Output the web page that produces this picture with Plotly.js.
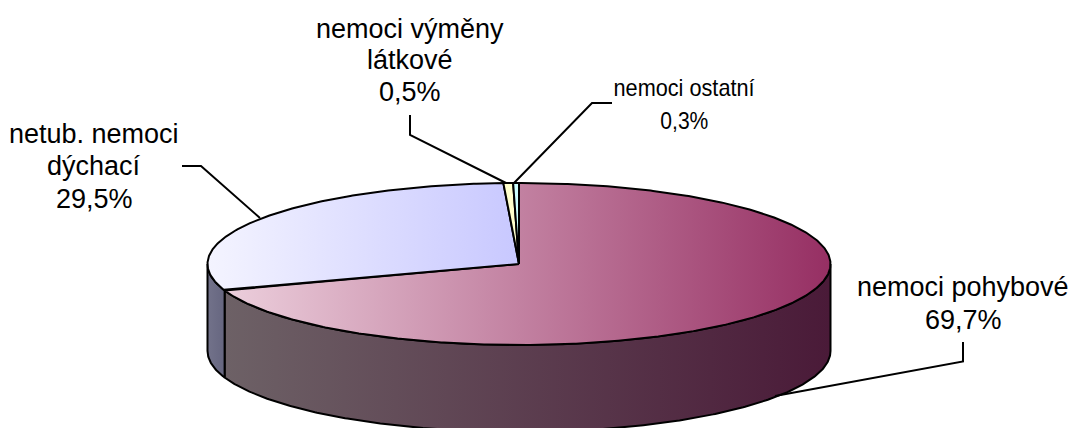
<!DOCTYPE html>
<html><head><meta charset="utf-8">
<script src="https://cdn.plot.ly/plotly-3.0.1.min.js"></script>
<style>html,body{margin:0;padding:0;background:#fff}#c{width:1071px;height:428px}</style>
</head><body><div id="c"></div>
<script>
// DATA
const categories = ['nemoci pohybové', 'netub. nemoci dýchací', 'nemoci výměny látkové', 'nemoci ostatní'];
const shares = [69.7, 29.5, 0.5, 0.3];
const shareLabels = ['69,7%', '29,5%', '0,5%', '0,3%'];
const labelLines = [['nemoci pohybové', '69,7%'], ['netub. nemoci', 'dýchací', '29,5%'], ['nemoci výměny', 'látkové', '0,5%'], ['nemoci ostatní', '0,3%']];

// STYLE / GEOMETRY
const cx = 519, cy = 264, rx = 311.5, ry = 81, depth = 87;
const topColors = [['#eccfdc', '#962f63'], ['#f4f4ff', '#c8c8ff'], ['#ffffcc', '#ffffcc'], ['#ccffff', '#ccffff']];
const sideColors = [['#6d6166', '#4a1a38'], ['#72728a', '#666680'], ['#77775f', '#77775f'], ['#5f7777', '#5f7777']];
const labelAnchors = [[963, [287, 320]], [94, [134, 166, 199]], [410, [29, 60, 92]], [684, [87, 120]]];
const leaders = [
  [[963, 342], [963, 361.5], [775, 396]],
  [[182, 166], [201, 166], [260, 218]],
  [[410, 115], [410, 135], [506, 183]],
  [[612, 103], [592, 103], [514, 183]]
];

const px = d => cx + rx * Math.sin(d * Math.PI / 180);
const py = (d, off) => cy - ry * Math.cos(d * Math.PI / 180) + (off || 0);
function arc(a, b, off) {
  const xs = [], ys = [], n = Math.max(2, Math.ceil(Math.abs(b - a) * 2));
  for (let i = 0; i <= n; i++) { const d = a + (b - a) * i / n; xs.push(px(d)); ys.push(py(d, off)); }
  return [xs, ys];
}
const grad = c => ({type: 'horizontal', colorscale: [[0, c[0]], [1, c[1]]]});
const outline = {color: '#000', width: 2};

const total = shares.reduce((s, v) => s + v, 0);
let run = 0;
const spans = shares.map(v => { const a = run; run += v; return [a / total * 360, run / total * 360]; });

const traces = [];
spans.forEach((sp, i) => {
  const a = Math.max(sp[0], 90), b = Math.min(sp[1], 270);
  if (b <= a) return;
  const t = arc(a, b, 0), u = arc(b, a, depth);
  traces.push({x: t[0].concat(u[0], [t[0][0]]), y: t[1].concat(u[1], [t[1][0]]), type: 'scatter', mode: 'lines',
    fill: 'toself', fillgradient: grad(sideColors[i]), line: outline, hoverinfo: 'skip', showlegend: false});
});
spans.forEach((sp, i) => {
  const t = arc(sp[0], sp[1], 0);
  traces.push({x: [cx].concat(t[0], [cx]), y: [cy].concat(t[1], [cy]), type: 'scatter', mode: 'lines',
    fill: 'toself', fillgradient: grad(topColors[i]), line: outline,
    name: categories[i], text: shareLabels[i], hoverinfo: 'name+text', showlegend: false});
});

const shapes = leaders.map(l => ({type: 'path', xref: 'x', yref: 'y',
  path: 'M' + l.map(p => p.join(',')).join('L'), line: {color: '#000', width: 2}}));

const annotations = [];
labelLines.forEach((lines, i) => {
  const narrow = i === 3;
  lines.forEach((s, j) => annotations.push({x: labelAnchors[i][0], y: labelAnchors[i][1][j], xref: 'x', yref: 'y',
    text: s, showarrow: false, xanchor: 'center', yanchor: 'middle',
    font: {family: '"Liberation Sans",Arial,sans-serif', size: narrow ? 24 : 27, color: '#000'}}));
});

Plotly.newPlot('c', traces, {
  width: 1071, height: 428, margin: {l: 0, r: 0, t: 0, b: 0},
  paper_bgcolor: '#fff', plot_bgcolor: '#fff', showlegend: false,
  xaxis: {range: [0, 1071], visible: false, fixedrange: true},
  yaxis: {range: [428, 0], visible: false, fixedrange: true},
  shapes, annotations
}, {displayModeBar: false, staticPlot: true}).then(() => {
  // the reference sets this one label in a condensed face
  const widths = {'nemoci ostatní': 141, '0,3%': 48};
  document.querySelectorAll('.annotation-text').forEach(el => {
    const w = widths[el.textContent];
    if (w) { el.setAttribute('textLength', w); el.setAttribute('lengthAdjust', 'spacingAndGlyphs'); }
  });
});
</script></body></html>
